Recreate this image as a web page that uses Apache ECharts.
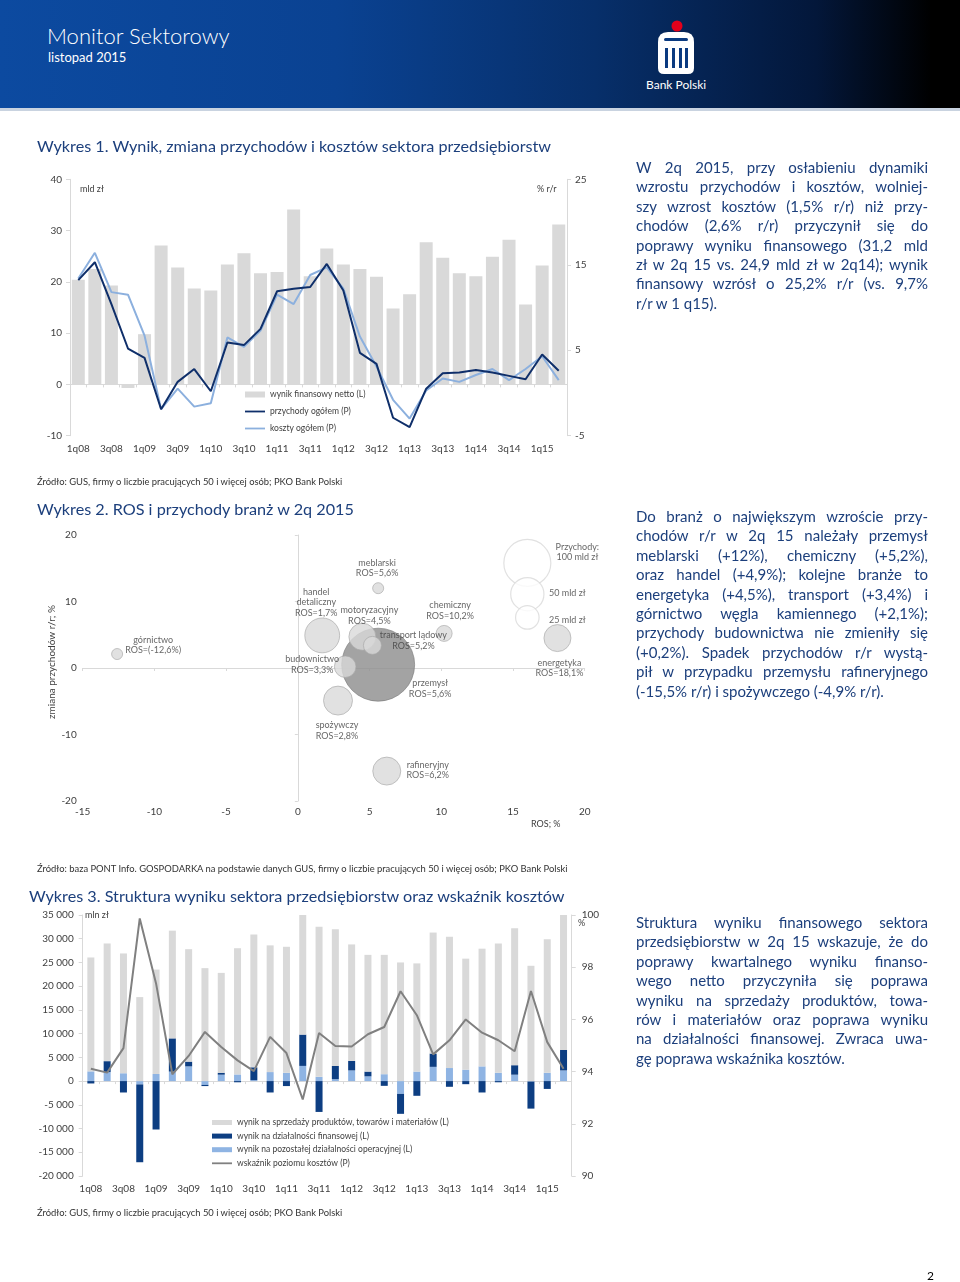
<!DOCTYPE html>
<html><head><meta charset="utf-8">
<script src="https://cdn.jsdelivr.net/npm/echarts@6/dist/echarts.min.js"></script>
<style>
html,body{margin:0;padding:0;background:#fff;}
#page{position:relative;width:960px;height:1282px;overflow:hidden;font-family:Lato,'Noto Sans',sans-serif;}
#chart{position:absolute;left:0;top:0;width:960px;height:1282px;}
#header{position:absolute;left:0;top:0;width:960px;height:108px;background:linear-gradient(90deg,#0c4aa0 0%,#0a4292 35%,#072f6a 62%,#03173a 85%,#000 97%);}
#hline{position:absolute;left:0;top:108px;width:960px;height:3px;background:#c9d3e0;}
.htitle{position:absolute;left:47px;top:22px;color:#fff;font-size:22px;font-weight:300;white-space:nowrap;}
.hsub{position:absolute;left:48px;top:49px;color:#fff;font-size:13px;white-space:nowrap;}
.bank{position:absolute;left:646px;top:77px;color:#fff;font-size:12px;white-space:nowrap;}
.txt{position:absolute;left:636px;width:292px;color:#1c3f7c;font-size:15px;line-height:19.4px;}
.txt div{white-space:nowrap;text-align:justify;text-align-last:justify;}
.txt div.last{text-align-last:left;}
.title{position:absolute;color:#1c3f7c;font-size:16.2px;white-space:nowrap;}
.src{position:absolute;left:37px;color:#333;font-size:9.4px;white-space:nowrap;}
.pnum{position:absolute;left:927px;top:1268px;font-size:12px;color:#000;}
</style></head>
<body><div id="page">
<div id="chart"></div>
<div id="header"></div><div id="hline"></div>
<div class="htitle">Monitor Sektorowy</div>
<div class="hsub">listopad 2015</div>
<svg style="position:absolute;left:650px;top:18px" width="52" height="60" viewBox="0 0 52 60">
<circle cx="27" cy="8" r="5.5" fill="#e3001b"/>
<path d="M8 24 Q8 14 18 14 L34 14 Q44 14 44 24 L44 50 Q44 56 38 56 L14 56 Q8 56 8 50 Z" fill="#fff"/>
<rect x="14" y="20" width="24" height="3" rx="1.5" fill="#0a3a80"/>
<rect x="15" y="30" width="3" height="20" fill="#0a3a80"/>
<rect x="22" y="30" width="3" height="20" fill="#0a3a80"/>
<rect x="29" y="30" width="3" height="20" fill="#0a3a80"/>
<rect x="35" y="30" width="3" height="20" fill="#0a3a80"/>
</svg>
<div class="bank">Bank Polski</div>

<div class="title" style="left:37px;top:136px">Wykres 1. Wynik, zmiana przychodów i kosztów sektora przedsiębiorstw</div>
<div class="title" style="left:37px;top:499px">Wykres 2. ROS i przychody branż w 2q 2015</div>
<div class="title" style="left:29px;top:886px">Wykres 3. Struktura wyniku sektora przedsiębiorstw oraz wskaźnik kosztów</div>

<div class="src" style="top:476px">Źródło: GUS, firmy o liczbie pracujących 50 i więcej osób; PKO Bank Polski</div>
<div class="src" style="top:863px">Źródło: baza PONT Info. GOSPODARKA na podstawie danych GUS, firmy o liczbie pracujących 50 i więcej osób; PKO Bank Polski</div>
<div class="src" style="top:1207px">Źródło: GUS, firmy o liczbie pracujących 50 i więcej osób; PKO Bank Polski</div>

<div class="txt" style="top:158px">
<div>W 2q 2015, przy osłabieniu dynamiki</div>
<div>wzrostu przychodów i kosztów, wolniej-</div>
<div>szy wzrost kosztów (1,5% r/r) niż przy-</div>
<div>chodów (2,6% r/r) przyczynił się do</div>
<div>poprawy wyniku finansowego (31,2 mld</div>
<div>zł w 2q 15 vs. 24,9 mld zł w 2q14); wynik</div>
<div>finansowy wzrósł o 25,2% r/r (vs. 9,7%</div>
<div class="last">r/r w 1 q15).</div>
</div>
<div class="txt" style="top:507px">
<div>Do branż o największym wzroście przy-</div>
<div>chodów r/r w 2q 15 należały przemysł</div>
<div>meblarski (+12%), chemiczny (+5,2%),</div>
<div>oraz handel (+4,9%); kolejne branże to</div>
<div>energetyka (+4,5%), transport (+3,4%) i</div>
<div>górnictwo węgla kamiennego (+2,1%);</div>
<div>przychody budownictwa nie zmieniły się</div>
<div>(+0,2%). Spadek przychodów r/r wystą-</div>
<div>pił w przypadku przemysłu rafineryjnego</div>
<div class="last">(-15,5% r/r) i spożywczego (-4,9% r/r).</div>
</div>
<div class="txt" style="top:913px">
<div>Struktura wyniku finansowego sektora</div>
<div>przedsiębiorstw w 2q 15 wskazuje, że do</div>
<div>poprawy kwartalnego wyniku finanso-</div>
<div>wego netto przyczyniła się poprawa</div>
<div>wyniku na sprzedaży produktów, towa-</div>
<div>rów i materiałów oraz poprawa wyniku</div>
<div>na działalności finansowej. Zwraca uwa-</div>
<div class="last">gę poprawa wskaźnika kosztów.</div>
</div>
<div class="pnum">2</div>
</div>
<script>
// ---------- DATA ----------
const quarters = ['1q08','2q08','3q08','4q08','1q09','2q09','3q09','4q09','1q10','2q10','3q10','4q10','1q11','2q11','3q11','4q11','1q12','2q12','3q12','4q12','1q13','2q13','3q13','4q13','1q14','2q14','3q14','4q14','1q15','2q15'];

// Wykres 1
const wynikNetto = [20.4, 22.5, 19.3, -0.7, 9.8, 27.1, 22.8, 18.7, 18.3, 23.4, 25.6, 21.7, 21.9, 34.1, 21.1, 26.5, 23.4, 22.5, 21.0, 14.8, 17.6, 27.7, 24.7, 21.7, 21.1, 24.9, 28.2, 15.6, 23.2, 31.2];
const przychodyRR = [13.2, 15.3, 10.4, 5.2, 4.1, -1.9, 1.3, 2.8, 0.2, 5.9, 5.6, 7.5, 11.9, 12.2, 12.4, 15.1, 12.0, 4.7, 3.4, -2.9, -4.0, 0.5, 2.3, 2.4, 2.7, 2.4, 2.0, 1.6, 4.5, 2.6];
const kosztyRR = [13.4, 16.4, 11.8, 11.5, 6.7, -1.9, 0.5, -1.6, -1.2, 6.5, 5.4, 7.3, 11.5, 10.4, 13.8, 14.7, 12.2, 6.6, 3.1, -0.8, -3.0, 0.3, 1.7, 1.3, 2.1, 2.8, 1.5, 2.8, 4.3, 1.5];
const names1 = ['wynik finansowy netto (L)', 'przychody ogółem (P)', 'koszty ogółem (P)'];

// Wykres 2
const branze = ['przemysł','meblarski','handel detaliczny','motoryzacyjny','transport lądowy','chemiczny','budownictwo','spożywczy','rafineryjny','energetyka','górnictwo'];
const branzeEtykiety = ['przemysł','meblarski','handel\ndetaliczny','motoryzacyjny','transport lądowy','chemiczny','budownictwo','spożywczy','rafineryjny','energetyka','górnictwo'];
const rosEtykiety = ['ROS=5,6%','ROS=5,6%','ROS=1,7%','ROS=4,5%','ROS=5,2%','ROS=10,2%','ROS=3,3%','ROS=2,8%','ROS=6,2%','ROS=18,1%','ROS=(-12,6%)'];
const ros = [5.6, 5.6, 1.7, 4.5, 5.2, 10.2, 3.3, 2.8, 6.2, 18.1, -12.6];
const zmianaPrzychodow = [0.5, 12.0, 4.9, 4.7, 3.4, 5.2, 0.2, -4.9, -15.5, 4.5, 2.1];
const przychodyMld = [241, 5.5, 55, 33, 14.7, 11.6, 21, 38, 35.5, 33, 5.5];
const legendaPrzychody = [100, 50, 25];
const legendaX = [16, 16, 16];
const legendaY = [15.8, 11.1, 7.6];
const legendaEtykiety = ['Przychody:\n100 mld zł', '50 mld zł', '25 mld zł'];

// Wykres 3
const sprzedaz = [24000, 24800, 25250, 17700, 22000, 22700, 23700, 23800, 21050, 26600, 28000, 26700, 26550, 25200, 31600, 28800, 24550, 24600, 25150, 25000, 22800, 25500, 27650, 23400, 24800, 27250, 28850, 24300, 28150, 28450];
const finansowa = [-500, 2300, -2400, -16400, -10200, 7000, 1000, -250, 400, -250, 2700, -2400, -1050, 6600, -6500, 2800, 2000, 1000, -1000, -4200, -3100, 2800, -1200, -650, -2400, -250, 2000, -5700, -1650, 4300];
const pozostala = [2050, 1900, 1650, -700, 1500, 2000, 3100, -800, 1350, 1400, 200, 1900, 1750, 3200, 900, 400, 2250, 1000, 1450, -2700, 2000, 3000, 2750, 2400, 3100, 1750, 1350, -100, 1750, 2250];
const wskaznikKosztow = [94.11, 93.96, 94.9, 99.87, 97.38, 93.9, 94.6, 95.52, 94.94, 94.43, 94.02, 95.33, 94.71, 92.93, 95.48, 94.98, 94.96, 95.43, 95.71, 97.08, 96.16, 94.66, 95.2, 96.0, 95.49, 95.2, 94.78, 97.09, 95.13, 94.11];
const names3 = ['wynik na sprzedaży produktów, towarów i materiałów (L)', 'wynik na działalności finansowej (L)', 'wynik na pozostałej działalności operacyjnej (L)', 'wskaźnik poziomu kosztów (P)'];

// ---------- STYLE (label placement) ----------
const bubbleLabelOffsets = [[52,24],[-1,-20],[-6,-33],[7,-21],[41,-5],[6,-23],[-33,-2],[-1,30],[41,-1],[2,30],[36,-9]];
const legendLabelOffsets = [[50,-11],[40,-1],[40,3]];

const FONT = 'Lato, "Noto Sans", sans-serif';
const AX = '#404040', LINE = '#d9d9d9';
const lineIcon = 'path://M0,0H100V9H0Z';
const sizeOf = r => Math.sqrt(r) * 4.7;
const fmt = v => v === 0 ? '0' : (v < 0 ? '-' : '') + Math.abs(v).toString().replace(/\B(?=(\d{3})+(?!\d))/g, ' ');

const axisLbl = (m) => ({color: AX, fontSize: 10, margin: m, fontFamily: FONT});
const yAx = (grid, pos, min, max, interval, margin, fmtr) => ({
  type: 'value', gridIndex: grid, position: pos, min, max, interval,
  splitLine: {show: false},
  axisLine: {show: true, onZero: false, lineStyle: {color: LINE}},
  axisTick: {show: true, length: 4, lineStyle: {color: LINE}},
  axisLabel: Object.assign(axisLbl(margin), fmtr ? {formatter: fmtr} : {})
});
const catZero = (grid) => ({
  type: 'category', gridIndex: grid, data: quarters, boundaryGap: true,
  axisLine: {show: true, onZero: true, lineStyle: {color: LINE}},
  axisTick: {show: true, interval: 0, length: 3, lineStyle: {color: LINE}},
  axisLabel: {show: false}, splitLine: {show: false}
});
const catLbl = (grid, margin) => ({
  type: 'category', gridIndex: grid, data: quarters, position: 'bottom', boundaryGap: true,
  axisLine: {show: false, onZero: false}, axisTick: {show: false},
  axisLabel: Object.assign(axisLbl(margin), {interval: 1}), splitLine: {show: false}
});

const bubbleData = branze.map((n, i) => ({
  name: n,
  value: [ros[i], zmianaPrzychodow[i], przychodyMld[i]],
  itemStyle: i === 0 ? {color: '#8c8c8c', borderColor: '#7a7a7a', borderWidth: 0.8} : {color: '#d9d9d9', borderColor: '#a6a6a6', borderWidth: 0.8},
  label: {show: true, position: 'inside', offset: bubbleLabelOffsets[i], formatter: branzeEtykiety[i] + '\n' + rosEtykiety[i]}
}));
const legendBubbleData = legendaPrzychody.map((r, i) => ({
  name: legendaEtykiety[i],
  value: [legendaX[i], legendaY[i], r],
  label: {show: true, position: 'inside', offset: legendLabelOffsets[i], formatter: legendaEtykiety[i]}
}));

const labelStyle = {color: AX, fontSize: 9, lineHeight: 10.5, fontFamily: FONT, align: 'center', verticalAlign: 'middle'};

const option = {
  animation: false,
  textStyle: {fontFamily: FONT},
  grid: [
    {left: 70, top: 179.3, width: 497, height: 256.4, containLabel: false, outerBoundsMode: 'none'},
    {left: 82.7, top: 535, width: 502, height: 266, containLabel: false, outerBoundsMode: 'none'},
    {left: 82.7, top: 915, width: 489, height: 261, containLabel: false, outerBoundsMode: 'none'}
  ],
  xAxis: [
    catZero(0), catLbl(0, 8),
    {type: 'value', gridIndex: 1, min: -15, max: 20, interval: 5,
      axisLine: {show: true, onZero: true, lineStyle: {color: LINE}},
      axisTick: {show: true, length: 3, lineStyle: {color: LINE}},
      axisLabel: {show: false}, splitLine: {show: false}},
    {type: 'value', gridIndex: 1, min: -15, max: 20, interval: 5, position: 'bottom',
      axisLine: {show: false, onZero: false}, axisTick: {show: false},
      axisLabel: axisLbl(6), splitLine: {show: false}},
    catZero(2), catLbl(2, 8)
  ],
  yAxis: [
    yAx(0, 'left', -10, 40, 10, 8),
    yAx(0, 'right', -5, 25, 10, 8),
    {type: 'value', gridIndex: 1, min: -20, max: 20, interval: 10,
      axisLine: {show: true, onZero: true, lineStyle: {color: LINE}},
      axisTick: {show: true, length: 3, lineStyle: {color: LINE}},
      axisLabel: axisLbl(6), splitLine: {show: false}},
    yAx(2, 'left', -20000, 35000, 5000, 9, fmt),
    yAx(2, 'right', 90, 100, 2, 10)
  ],
  legend: [
    {left: 245, top: 390, padding: 0, orient: 'vertical', itemWidth: 20, itemHeight: 6, itemGap: 8, symbolKeepAspect: true,
      textStyle: {color: AX, fontSize: 8.5, fontFamily: FONT},
      data: [{name: names1[0], icon: 'rect'}, {name: names1[1], icon: lineIcon}, {name: names1[2], icon: lineIcon}]},
    {left: 212, top: 1118, padding: 0, orient: 'vertical', itemWidth: 20, itemHeight: 5, itemGap: 4.6, symbolKeepAspect: true,
      textStyle: {color: AX, fontSize: 8.5, fontFamily: FONT},
      data: [{name: names3[0], icon: 'rect'}, {name: names3[1], icon: 'rect'}, {name: names3[2], icon: 'rect'}, {name: names3[3], icon: lineIcon}]}
  ],
  graphic: [
    {type: 'text', left: 80, top: 185, style: {text: 'mld zł', fill: AX, fontSize: 9, fontFamily: FONT}},
    {type: 'text', left: 537, top: 185, style: {text: '% r/r', fill: AX, fontSize: 9, fontFamily: FONT}},
    {type: 'text', left: 531, top: 820, style: {text: 'ROS; %', fill: AX, fontSize: 9, fontFamily: FONT}},
    {type: 'text', x: 52, y: 662, rotation: Math.PI / 2, style: {text: 'zmiana przychodów r/r; %', fill: AX, fontSize: 10, fontFamily: FONT, align: 'center', verticalAlign: 'middle'}},
    {type: 'text', left: 85, top: 911, style: {text: 'mln zł', fill: AX, fontSize: 9, fontFamily: FONT}},
    {type: 'text', left: 578, top: 919, style: {text: '%', fill: AX, fontSize: 9, fontFamily: FONT}}
  ],
  series: [
    {name: names1[0], type: 'bar', xAxisIndex: 1, yAxisIndex: 0, data: wynikNetto, barWidth: 13,
      itemStyle: {color: '#d9d9d9'}},
    {name: names1[2], type: 'line', xAxisIndex: 1, yAxisIndex: 1, data: kosztyRR, symbol: 'none',
      lineStyle: {color: '#8cb0de', width: 2}, itemStyle: {color: '#8cb0de'}},
    {name: names1[1], type: 'line', xAxisIndex: 1, yAxisIndex: 1, data: przychodyRR, symbol: 'none',
      lineStyle: {color: '#0f2f6a', width: 2}, itemStyle: {color: '#0f2f6a'}},

    {name: 'legenda', type: 'scatter', xAxisIndex: 3, yAxisIndex: 2, data: legendBubbleData,
      symbolSize: v => sizeOf(v[2]), itemStyle: {color: '#fff', borderColor: '#d9d9d9', borderWidth: 1.2},
      label: labelStyle, z: 2},
    {name: 'branże', type: 'scatter', xAxisIndex: 3, yAxisIndex: 2, data: bubbleData,
      symbolSize: v => sizeOf(v[2]), label: labelStyle, z: 3},

    {name: names3[2], type: 'bar', xAxisIndex: 5, yAxisIndex: 3, stack: 'w', stackStrategy: 'samesign', data: pozostala, barWidth: 7,
      itemStyle: {color: '#8fb4e3'}},
    {name: names3[1], type: 'bar', xAxisIndex: 5, yAxisIndex: 3, stack: 'w', stackStrategy: 'samesign', data: finansowa, barWidth: 7,
      itemStyle: {color: '#0d3e82'}},
    {name: names3[0], type: 'bar', xAxisIndex: 5, yAxisIndex: 3, stack: 'w', stackStrategy: 'samesign', data: sprzedaz, barWidth: 7,
      itemStyle: {color: '#d9d9d9'}},
    {name: names3[3], type: 'line', xAxisIndex: 5, yAxisIndex: 4, data: wskaznikKosztow, symbol: 'none',
      lineStyle: {color: '#808080', width: 2}, itemStyle: {color: '#808080'}, z: 5}
  ]
};
const chart = echarts.init(document.getElementById('chart'), null, {renderer: 'canvas'});
chart.setOption(option);
</script>
</body></html>
